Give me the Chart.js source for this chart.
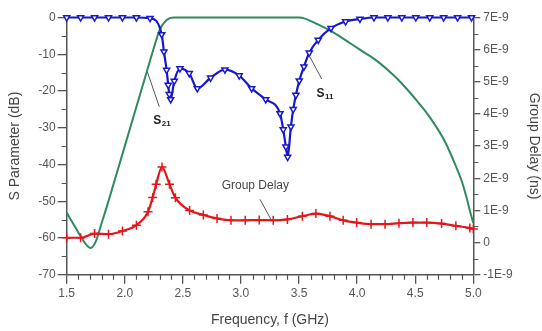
<!DOCTYPE html>
<html>
<head>
<meta charset="utf-8">
<script src="https://cdn.jsdelivr.net/npm/chart.js@4/dist/chart.umd.min.js"></script>
<style>
html,body{margin:0;padding:0;background:#fff;}
#wrap{width:542px;height:331px;}
</style>
</head>
<body>
<div id="wrap"><canvas id="c" width="542" height="331"></canvas></div>
<script>
// ---- data ----
const freqS11 = [1.50,1.62,1.74,1.86,1.98,2.10,2.217,2.318,2.337,2.36,2.374,2.383,2.395,2.426,2.475,2.555,2.624,2.739,2.862,2.985,3.092,3.213,3.336,3.364,3.387,3.402,3.430,3.450,3.473,3.502,3.542,3.588,3.665,3.775,3.901,4.024,4.145,4.265,4.385,4.505,4.625,4.745,4.865,4.985];
const s11 = [0,0,0,0,0,0,-0.2,-4.6,-9.3,-14.3,-18.4,-20.9,-22.3,-17.3,-13.9,-15.2,-19.3,-16.4,-14.2,-15.8,-19.3,-22.3,-26.1,-30.5,-35.2,-38.0,-29.7,-25.0,-21.1,-17.2,-13.4,-9.6,-6.1,-2.9,-1.1,-0.4,0,0,0,0,0,0,0,0];

const freqS21 = [1.50,1.55,1.60,1.66,1.706,1.75,1.80,1.85,2.00,2.19,2.25,2.30,2.36,2.42,3.00,3.50,3.55,3.65,3.77,3.94,4.05,4.17,4.31,4.42,4.51,4.60,4.68,4.76,4.84,4.90,4.94,4.97,5.00];
const s21 = [-53.1,-55.8,-58.5,-61.5,-62.7,-61.0,-56.0,-51.0,-35.0,-14.7,-8.3,-3.4,-0.7,0,0,0,-0.3,-1.7,-3.6,-7.0,-9.3,-11.8,-15.6,-19.2,-22.5,-26.0,-29.7,-34.0,-39.7,-44.5,-48.8,-52.5,-56.0];

const freqGD = [1.50,1.62,1.74,1.86,1.98,2.10,2.20,2.24,2.27,2.32,2.385,2.436,2.558,2.676,2.794,2.914,3.037,3.157,3.278,3.40,3.528,3.645,3.766,3.88,3.996,4.12,4.24,4.36,4.48,4.60,4.727,4.85,4.97,5.00];
const groupDelayNs = [0.15,0.15,0.28,0.26,0.36,0.54,0.96,1.40,1.81,2.35,1.81,1.39,1.00,0.86,0.75,0.69,0.69,0.70,0.69,0.72,0.82,0.90,0.82,0.69,0.62,0.57,0.57,0.60,0.62,0.62,0.59,0.52,0.45,0.42];

const rightTickValues = [-1,0,1,2,3,4,5,6,7];
const rightTickLabels = ['-1E-9','0','1E-9','2E-9','3E-9','4E-9','5E-9','6E-9','7E-9'];

const pts = (xs, ys) => xs.map((v, i) => ({x: v, y: ys[i]}));

const AXIS = '#555';
const FONT = '"Liberation Sans", Arial, sans-serif';

const extras = {
  id: 'extras',
  afterDraw(chart) {
    const {ctx, chartArea: a, scales: {x, y, y2}} = chart;
    ctx.save();
    // minor ticks
    ctx.strokeStyle = AXIS; ctx.lineWidth = 1.2;
    ctx.beginPath();
    for (let i = 0; i <= 35; i++) {
      if (i % 5 === 0) continue;
      const px = Math.round(x.getPixelForValue(1.5 + i * 0.1)) + 0.5;
      ctx.moveTo(px, a.bottom); ctx.lineTo(px, a.bottom + 5);
    }
    for (let v = -65; v < 0; v += 10) {
      const py = Math.round(y.getPixelForValue(v)) + 0.5;
      ctx.moveTo(a.left - 5, py); ctx.lineTo(a.left, py);
    }
    for (let v = -0.5; v < 7; v += 1) {
      const py = Math.round(y2.getPixelForValue(v)) + 0.5;
      ctx.moveTo(a.right, py); ctx.lineTo(a.right + 5, py);
    }
    ctx.stroke();

    // pointer lines
    ctx.strokeStyle = '#555'; ctx.lineWidth = 1;
    ctx.beginPath();
    ctx.moveTo(x.getPixelForValue(2.194), y.getPixelForValue(-14.75));
    ctx.lineTo(x.getPixelForValue(2.297), y.getPixelForValue(-24.3));
    ctx.moveTo(x.getPixelForValue(3.594), y.getPixelForValue(-10.75));
    ctx.lineTo(x.getPixelForValue(3.695), y.getPixelForValue(-16.74));
    ctx.moveTo(x.getPixelForValue(3.164), y2.getPixelForValue(1.345));
    ctx.lineTo(x.getPixelForValue(3.256), y2.getPixelForValue(0.733));
    ctx.stroke();

    // labels
    ctx.fillStyle = '#222';
    ctx.textBaseline = 'alphabetic';
    ctx.textAlign = 'left';
    const sLabel = (txt, sub, gx, gy) => {
      const px = x.getPixelForValue(gx), py = y.getPixelForValue(gy);
      ctx.font = 'bold 12px ' + FONT;
      ctx.fillText(txt, px, py);
      const w = ctx.measureText(txt).width;
      ctx.font = 'bold 8px ' + FONT;
      ctx.fillText(sub, px + w + 0.5, py + 2);
    };
    sLabel('S', '21', 2.245, -28.85);
    sLabel('S', '11', 3.651, -21.6);
    ctx.fillStyle = '#444';
    ctx.font = '12px ' + FONT;
    ctx.fillText('Group Delay', x.getPixelForValue(2.834), y2.getPixelForValue(1.666));
    ctx.restore();
  }
};

new Chart(document.getElementById('c'), {
  type: 'line',
  data: {
    datasets: [
      {
        label: 'S11', data: pts(freqS11, s11), yAxisID: 'y',
        borderColor: '#1717cf', borderWidth: 2.2,
        pointStyle: 'triangle', pointRotation: 180, pointRadius: 3.5,
        pointBorderColor: '#1717cf', pointBackgroundColor: '#ffffff', pointBorderWidth: 1.5,
        cubicInterpolationMode: 'monotone', clip: false, order: 1
      },
      {
        label: 'Group Delay', data: pts(freqGD, groupDelayNs), yAxisID: 'y2',
        borderColor: '#e3161b', borderWidth: 2.2,
        pointStyle: 'cross', pointRadius: 4.5,
        pointBorderColor: '#e3161b', pointBorderWidth: 1.5,
        cubicInterpolationMode: 'monotone', clip: false, order: 2
      },
      {
        label: 'S21', data: pts(freqS21, s21), yAxisID: 'y',
        borderColor: '#2f8a5c', borderWidth: 2,
        pointRadius: 0,
        cubicInterpolationMode: 'monotone', clip: false, order: 3
      }
    ]
  },
  options: {
    responsive: false,
    animation: false,
    devicePixelRatio: 1,
    layout: {padding: {top: 17.5, left: 0, right: 0, bottom: 0}},
    plugins: {legend: {display: false}, tooltip: {enabled: false}},
    scales: {
      x: {
        type: 'linear', position: 'bottom', min: 1.5, max: 5.0,
        ticks: {stepSize: 0.5, callback: v => Number(v).toFixed(1), color: AXIS, font: {size: 12, family: FONT}, padding: 3, maxRotation: 0, autoSkip: false},
        grid: {drawOnChartArea: false, drawTicks: true, tickLength: 9, color: AXIS, lineWidth: 1.3},
        border: {color: AXIS, width: 1.5},
        title: {display: true, text: 'Frequency, f (GHz)', color: '#444', font: {size: 14, family: FONT}, padding: {top: 0, bottom: 2.6}},
        afterFit: s => { s.height = 56.3; }
      },
      y: {
        type: 'linear', position: 'left', min: -70, max: 0,
        ticks: {stepSize: 10, color: AXIS, font: {size: 12, family: FONT}, padding: 2},
        grid: {drawOnChartArea: false, drawTicks: true, tickLength: 9, color: AXIS, lineWidth: 1.3},
        border: {color: AXIS, width: 1.5},
        title: {display: true, text: 'S Parameter (dB)', color: '#444', font: {size: 14, family: FONT}, padding: {top: 6.6, bottom: 0}},
        afterFit: s => { s.width = 66.7; }
      },
      y2: {
        type: 'linear', position: 'right', min: -1, max: 7,
        ticks: {stepSize: 1, color: AXIS, font: {size: 12, family: FONT}, padding: 3,
          callback: v => { const i = rightTickValues.indexOf(Math.round(v)); return i >= 0 ? rightTickLabels[i] : ''; }},
        grid: {drawOnChartArea: false, drawTicks: true, tickLength: 7, color: AXIS, lineWidth: 1.3},
        border: {color: AXIS, width: 1.5},
        title: {display: true, text: 'Group Delay (ns)', color: '#444', font: {size: 14, family: FONT}, padding: {top: 0, bottom: 0}},
        afterFit: s => { s.width = 68.7; }
      }
    }
  },
  plugins: [extras]
});
</script>
</body>
</html>
